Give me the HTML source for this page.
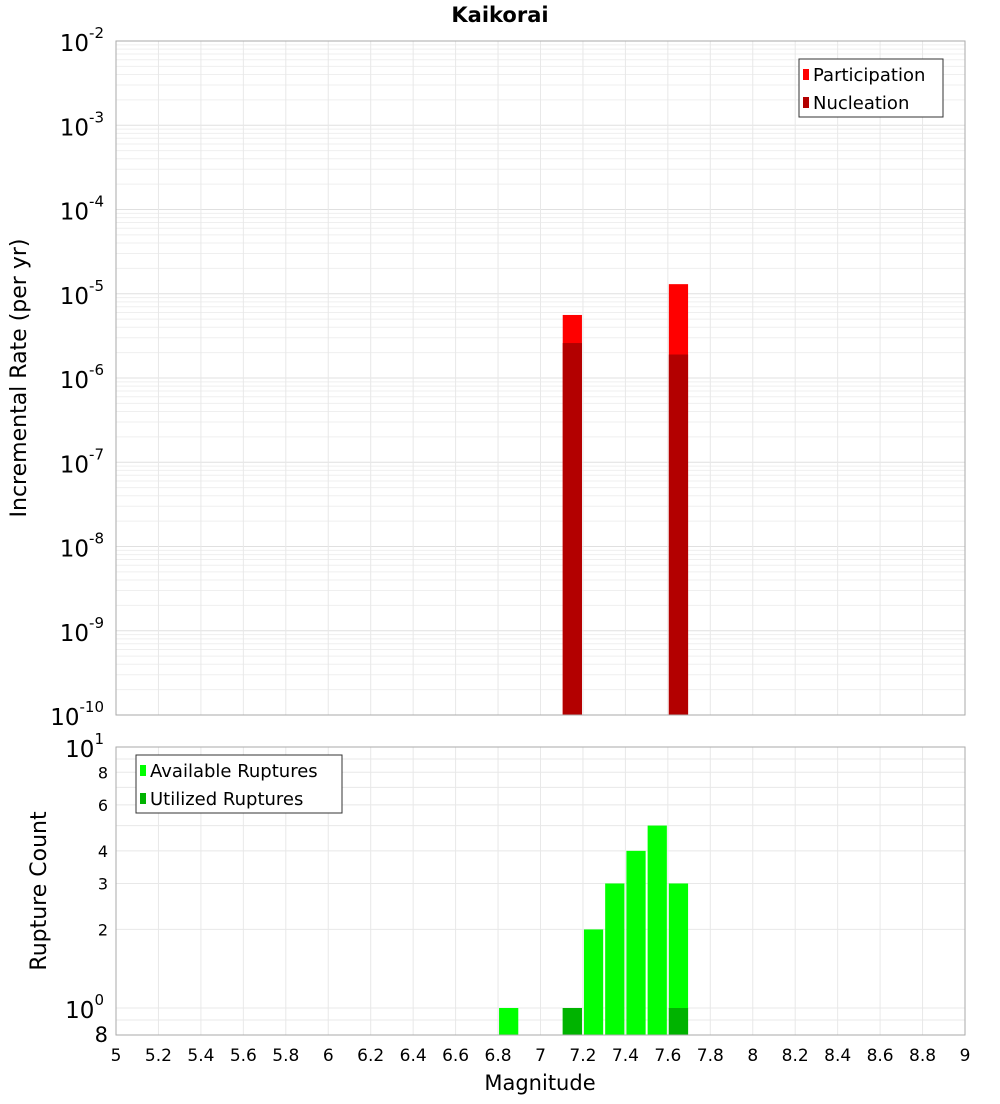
<!DOCTYPE html>
<html><head><meta charset="utf-8"><style>
body{margin:0;background:#fff;font-family:"DejaVu Sans","Liberation Sans",sans-serif;}
svg text{font-family:"DejaVu Sans","Liberation Sans",sans-serif;}
</style></head><body>
<svg id="chart" width="1000" height="1100" xmlns="http://www.w3.org/2000/svg">
<text x="500" y="22" text-anchor="middle" font-size="21" font-weight="bold">Kaikorai</text>
<g id="topg"></g><g id="botg"></g>
</svg>
<script>
const mags=[6.85,7.15,7.25,7.35,7.45,7.55,7.65];
const partMags=[7.15,7.65];
const partVals=[5.6e-6,1.3e-5];
const nuclVals=[2.6e-6,1.9e-6];
const availVals=[1,1,2,3,4,5,3];
const utilMags=[7.15,7.65];
const utilVals=[1,1];
const xTicks=[5,5.2,5.4,5.6,5.8,6,6.2,6.4,6.6,6.8,7,7.2,7.4,7.6,7.8,8,8.2,8.4,8.6,8.8,9];
const topExps=[-2,-3,-4,-5,-6,-7,-8,-9,-10];
const botTicks=[8,6,4,3,2];

const NS="http://www.w3.org/2000/svg";
const X0=116,X1=965;
const xS=m=>X0+(m-5)/4*(X1-X0);
const T0=41,T1=715;
const yT=v=>T0+(-2-Math.log10(v))/8*(T1-T0);
const B0=747,B1=1035;
const yB=v=>B0+(1-Math.log10(v))*261;
function el(p,t,a,txt){const e=document.createElementNS(NS,t);for(const k in a)e.setAttribute(k,a[k]);if(txt!=null)e.textContent=txt;p.appendChild(e);return e;}
const gTop=document.getElementById('topg'),gBot=document.getElementById('botg');

for(let d=-10;d<-2;d++)for(let k=1;k<10;k++){const y=yT(k*Math.pow(10,d));
const g=el(gTop,'line',{x1:X0,x2:X1,y1:y,y2:y,stroke:k==1?'#e0e0e0':'#efefef','stroke-width':1});

}
[0.9,1,2,3,4,5,6,7,8,9].forEach(v=>{const y=yB(v);
const g=el(gBot,'line',{x1:X0,x2:X1,y1:y,y2:y,stroke:'#e8e8e8'});

});
xTicks.forEach(t=>{[gTop,gBot].forEach((p,i)=>{
const g=el(p,'line',{x1:xS(t),x2:xS(t),y1:i?B0:T0,y2:i?B1:T1,stroke:'#e8e8e8'});

});
const lb=el(gBot,'text',{x:xS(t),y:1061,'text-anchor':'middle','font-size':17},String(t));

});

partMags.forEach((m,i)=>{
const r=el(gTop,'rect',{x:xS(m-0.05)+1,width:xS(m+0.05)-xS(m-0.05)-2,y:yT(partVals[i]),height:T1-yT(partVals[i]),fill:'#ff0000'});


const n=el(gTop,'rect',{x:xS(m-0.05)+1,width:xS(m+0.05)-xS(m-0.05)-2,y:yT(nuclVals[i]),height:T1-yT(nuclVals[i]),fill:'#b30000'});

});
mags.forEach((m,i)=>{
const r=el(gBot,'rect',{x:xS(m-0.05)+1,width:xS(m+0.05)-xS(m-0.05)-2,y:yB(availVals[i]),height:B1-yB(availVals[i]),fill:'#00ff00'});

});
utilMags.forEach((m,i)=>{
const r=el(gBot,'rect',{x:xS(m-0.05)+1,width:xS(m+0.05)-xS(m-0.05)-2,y:yB(utilVals[i]),height:B1-yB(utilVals[i]),fill:'#00b300'});

});

el(gTop,'rect',{x:X0,y:T0,width:X1-X0,height:T1-T0,fill:'none',stroke:'#aaa'});
el(gBot,'rect',{x:X0,y:B0,width:X1-X0,height:B1-B0,fill:'none',stroke:'#aaa'});

topExps.forEach(e=>{const y=yT(Math.pow(10,e));
const t=el(gTop,'text',{x:104,y:y+10,'text-anchor':'end','font-size':23});


el(t,'tspan',{},'10');el(t,'tspan',{dy:-13,'font-size':15},String(e));});
[[10,'1'],[1,'0']].forEach(([v,e])=>{const y=yB(v);
const t=el(gBot,'text',{x:104,y:y+10,'text-anchor':'end','font-size':23});


el(t,'tspan',{},'10');el(t,'tspan',{dy:-13,'font-size':15},e);});
botTicks.forEach(v=>{const t=el(gBot,'text',{x:108,y:yB(v)+6,'text-anchor':'end','font-size':16},String(v));

});
const t8=el(gBot,'text',{x:108,y:1042,'text-anchor':'end','font-size':21},'8');



const yt=el(gTop,'text',{x:0,y:0,transform:'translate(26,378) rotate(-90)','text-anchor':'middle','font-size':22},'Incremental Rate (per yr)');


const yb=el(gBot,'text',{x:0,y:0,transform:'translate(46,891) rotate(-90)','text-anchor':'middle','font-size':22},'Rupture Count');


const xt=el(gBot,'text',{x:540,y:1090,'text-anchor':'middle','font-size':21},'Magnitude');



function legend(p,x0,y0,w,items,name){
const g=el(p,'g',{});


el(g,'rect',{x:x0,y:y0,width:w,height:58,fill:'#fff',stroke:'#333'});
items.forEach(([c,l],i)=>{el(g,'rect',{x:x0+4,y:y0+10+i*28,width:6,height:11,fill:c});
el(g,'text',{x:x0+14,y:y0+22+i*28,'font-size':18},l);});}
legend(gTop,799,59,144,[['#ff0000','Participation'],['#b30000','Nucleation']],'legend-rate');
legend(gBot,136,755,206,[['#00ff00','Available Ruptures'],['#00b300','Utilized Ruptures']],'legend-count');
</script>
</body></html>
